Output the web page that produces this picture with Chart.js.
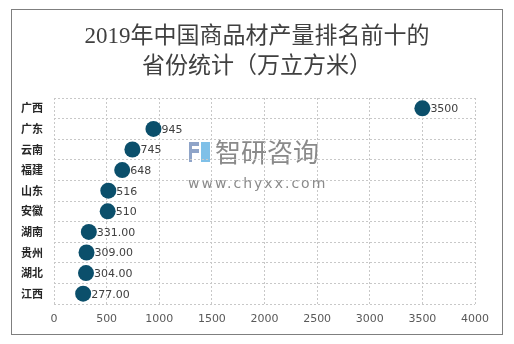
<!DOCTYPE html>
<html>
<head>
<meta charset="utf-8">
<script src="https://cdn.jsdelivr.net/npm/chart.js@4.4.0/dist/chart.umd.min.js"></script>
<style>
  body { margin: 0; background: #fff; }
  #box { width: 514px; height: 344px; }
</style>
</head>
<body>
<div id="box"><canvas id="rankChart" width="514" height="344"></canvas></div>
<script>
const provinces = ['广西', '广东', '云南', '福建', '山东', '安徽', '湖南', '贵州', '湖北', '江西'];
const output = [3500, 945, 745, 648, 516, 510, 331, 309, 304, 277];
const outputLabels = ['3500', '945', '745', '648', '516', '510', '331.00', '309.00', '304.00', '277.00'];
const xTicks = [0, 500, 1000, 1500, 2000, 2500, 3000, 3500, 4000];
const titleLines = ['2019年中国商品材产量排名前十的', '省份统计（万立方米）'];

const cjk = "'Noto Sans CJK SC', 'Noto Sans', sans-serif";

// frame, title and watermark
const decor = {
  id: 'decor',
  beforeDraw(chart) {
    const c = chart.ctx;
    c.save();
    c.fillStyle = '#fff';
    c.fillRect(0, 0, chart.width, chart.height);
    c.strokeStyle = '#7f7f7f';
    c.lineWidth = 1;
    c.strokeRect(11.5, 9.5, 491, 325);

    c.fillStyle = '#404040';
    c.textAlign = 'center';
    c.textBaseline = 'middle';
    c.font = "23px 'Liberation Serif', 'Noto Sans CJK SC', serif";
    c.fillText(titleLines[0], 257, 37);
    c.fillText(titleLines[1], 257, 67);

    // watermark
    c.fillStyle = '#8a8a8a';
    c.textAlign = 'left';
    c.font = "26px " + cjk;
    c.fillText('智研咨询', 215, 152);
    c.font = "14px 'DejaVu Sans', sans-serif";
    if ('letterSpacing' in c) c.letterSpacing = '2px';
    c.fillText('www.chyxx.com', 188, 184);
    c.restore();
    // logo
    c.save();
    c.fillStyle = '#8fa4c8';
    c.fillRect(189, 142, 10, 4);
    c.fillRect(189, 149, 10, 4);
    c.fillRect(189, 142, 3, 20);
    c.fillStyle = '#7fc0e8';
    c.fillRect(201, 142, 9, 20);
    c.restore();
  }
};

const pointLabels = {
  id: 'pointLabels',
  afterDatasetsDraw(chart) {
    const c = chart.ctx;
    const meta = chart.getDatasetMeta(0);
    c.save();
    c.fillStyle = '#404040';
    c.font = "11px 'DejaVu Sans', sans-serif";
    c.textAlign = 'left';
    c.textBaseline = 'middle';
    meta.data.forEach((pt, i) => {
      c.fillText(outputLabels[i], pt.x + 8, pt.y + 1);
    });
    c.restore();
  }
};

new Chart(document.getElementById('rankChart'), {
  type: 'line',
  data: {
    labels: provinces,
    datasets: [{
      data: output,
      showLine: false,
      pointRadius: 8,
      pointHoverRadius: 8,
      pointBackgroundColor: '#0b4f6b',
      pointBorderColor: '#0b4f6b',
      pointBorderWidth: 0
    }]
  },
  options: {
    indexAxis: 'y',
    responsive: false,
    animation: false,
    layout: { padding: { left: 0, top: 98, right: 39, bottom: 10 } },
    plugins: {
      legend: { display: false },
      title: { display: false },
      tooltip: { enabled: false }
    },
    scales: {
      x: {
        type: 'linear',
        min: 0,
        max: 4000,
        afterBuildTicks(scale) { scale.ticks = xTicks.map(v => ({ value: v })); },
        afterFit(scale) { scale.height = 30; },
        grid: { color: '#c8c8c8', lineWidth: 1, tickLength: 0 },
        border: { display: false, dash: [2, 2] },
        ticks: {
          color: '#595959',
          font: { size: 11, family: "'DejaVu Sans', sans-serif" },
          padding: 9,
          callback: v => String(v)
        }
      },
      y: {
        type: 'category',
        offset: true,
        afterFit(scale) { scale.width = 54; },
        grid: { offset: true, color: '#c8c8c8', lineWidth: 1, tickLength: 0 },
        border: { display: false, dash: [2, 2] },
        ticks: { color: '#262626', font: { size: 11, weight: 'bold', family: cjk }, padding: 11 }
      }
    }
  },
  plugins: [decor, pointLabels]
});
</script>
</body>
</html>
